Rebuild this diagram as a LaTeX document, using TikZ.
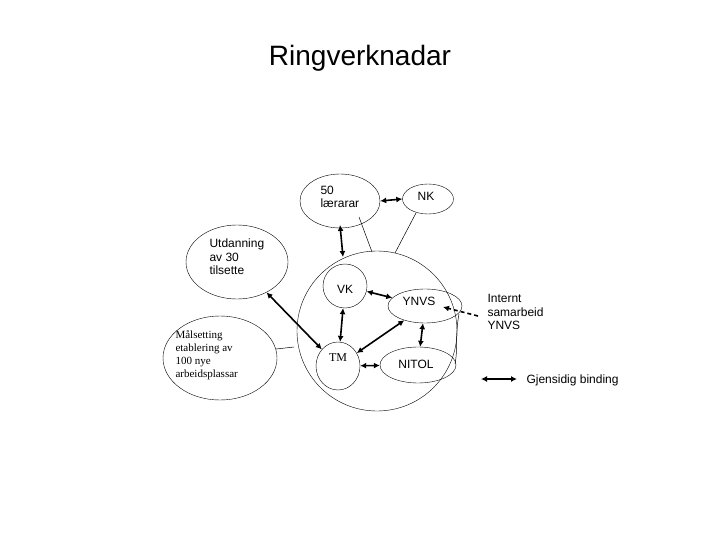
\documentclass[tikz,border=0pt]{standalone}
\usepackage{fontspec}
\setmainfont{Liberation Sans}
\newfontfamily\serifx{Liberation Serif}
\usetikzlibrary{arrows.meta,shapes.geometric}
\begin{document}
\begin{tikzpicture}[x=1pt,y=-1pt,
  el/.style={draw,ellipse,inner sep=0pt},
  lbl/.style={font=\fontsize{12}{13.5}\selectfont,align=left},
  bi/.style={line width=1.6pt,{Latex[length=6pt,width=6pt]}-{Latex[length=6pt,width=6pt]}},
  thin/.style={line width=0.5pt}]
\useasboundingbox (0,0) rectangle (720,540);
\node[font=\fontsize{28}{30}\selectfont] (title) at (360,58) {Ringverknadar};
\node[el,minimum width=160pt,minimum height=160pt] (big) at (377,331) {};
\node[el,minimum width=80pt,minimum height=54pt] (l50) at (340,201) {};
\node[lbl,anchor=west] (t50) at (317,197) {50\\lærarar};
\node[el,minimum width=51pt,minimum height=30pt] (nk) at (428,199) {};
\node[lbl] (tnk) at (426,196) {NK};
\node[el,minimum width=102pt,minimum height=74pt] (utd) at (237,262) {};
\node[lbl,anchor=west] (tutd) at (206,257) {Utdanning\\av 30\\tilsette};
\node[el,minimum width=114pt,minimum height=84pt] (mal) at (220,358) {};
\node[align=left,anchor=west,font=\serifx\fontsize{11}{13}\selectfont] (tmal) at (172,355) {Målsetting\\etablering av\\100 nye\\arbeidsplassar};
\node[el,minimum width=44pt,minimum height=44pt] (vk) at (345,286) {};
\node[lbl] (tvk) at (345,289) {VK};
\node[el,minimum width=74pt,minimum height=34pt] (ynvs) at (425,306) {};
\node[lbl] (tynvs) at (419,301) {YNVS};
\node[el,minimum width=44pt,minimum height=48pt] (tm) at (338,366) {};
\node[font=\serifx\fontsize{12}{13}\selectfont] (ttm) at (338,358) {TM};
\node[el,minimum width=76pt,minimum height=36pt] (nitol) at (418,365) {};
\node[lbl] (tnitol) at (416,364) {NITOL};
\node[lbl,anchor=west] (int) at (484,312) {Internt\\samarbeid\\YNVS};
\node[lbl,anchor=west] (gj) at (523,380) {Gjensidig binding};
\coordinate (la) at (481,379);
\coordinate (lb) at (517,379);
\coordinate (ds) at (478,316);
\coordinate (dh) at (443,307);
\coordinate (a1) at (340,225);
\coordinate (a2) at (343,257);
\coordinate (p1) at (359,217);
\coordinate (p2) at (372,252);
\coordinate (q1) at (416,213);
\coordinate (q2) at (395,253);
\coordinate (r1) at (276,349);
\coordinate (r2) at (294,347);
\coordinate (s1) at (459,314);
\coordinate (s2) at (455,364);
\draw[bi] (la) -- (lb);
\draw[bi] (l50.east) -- (nk.west);
\draw[bi] (a1) -- (a2);
\draw[bi] (utd) -- (tm);
\draw[bi] (vk) -- (tm);
\draw[bi] (vk) -- (ynvs);
\draw[bi] (ynvs) -- (tm);
\draw[bi] (ynvs) -- (nitol);
\draw[bi] (tm) -- (nitol);
\draw[line width=1.6pt,dash pattern=on 4pt off 3pt,-{Latex[length=6pt,width=6pt]}] (ds) -- (dh);
\draw[thin] (p1) -- (p2);
\draw[thin] (q1) -- (q2);
\draw[thin] (r1) -- (r2);
\draw[thin] (s1) .. controls (455,335) and (458,350) .. (s2);
\end{tikzpicture}
\end{document}
